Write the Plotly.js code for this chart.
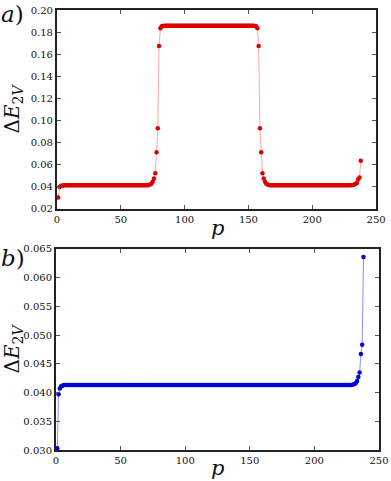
<!DOCTYPE html>
<html>
<head>
<meta charset="utf-8">
<script src="https://cdn.plot.ly/plotly-3.0.1.min.js"></script>
<style>
  html, body { margin: 0; padding: 0; background: #fff; }
  #chart { width: 391px; height: 481px; }
</style>
</head>
<body>
<div id="chart"></div>
<script>
// p = 1..238
const pValues = Array.from({ length: 238 }, (_, i) => i + 1);

// panel a) values, 10 per row
const energyA = [
  0.0303, 0.0397, 0.0407, 0.0411, 0.0412, 0.0413, 0.0413, 0.0413, 0.0413, 0.0413,
  0.0413, 0.0413, 0.0413, 0.0413, 0.0413, 0.0413, 0.0413, 0.0413, 0.0413, 0.0413,
  0.0413, 0.0413, 0.0413, 0.0413, 0.0413, 0.0413, 0.0413, 0.0413, 0.0413, 0.0413,
  0.0413, 0.0413, 0.0413, 0.0413, 0.0413, 0.0413, 0.0413, 0.0413, 0.0413, 0.0413,
  0.0413, 0.0413, 0.0413, 0.0413, 0.0413, 0.0413, 0.0413, 0.0413, 0.0413, 0.0413,
  0.0413, 0.0413, 0.0413, 0.0413, 0.0413, 0.0413, 0.0413, 0.0413, 0.0413, 0.0413,
  0.0413, 0.0413, 0.0413, 0.0413, 0.0413, 0.0413, 0.0413, 0.0413, 0.0413, 0.0413,
  0.0414, 0.0416, 0.0420, 0.0428, 0.0445, 0.0475, 0.0522, 0.0712, 0.0930, 0.1674,
  0.1834, 0.1852, 0.1856, 0.1857, 0.1857, 0.1857, 0.1857, 0.1857, 0.1857, 0.1857,
  0.1857, 0.1857, 0.1857, 0.1857, 0.1857, 0.1857, 0.1857, 0.1857, 0.1857, 0.1857,
  0.1857, 0.1857, 0.1857, 0.1857, 0.1857, 0.1857, 0.1857, 0.1857, 0.1857, 0.1857,
  0.1857, 0.1857, 0.1857, 0.1857, 0.1857, 0.1857, 0.1857, 0.1857, 0.1857, 0.1857,
  0.1857, 0.1857, 0.1857, 0.1857, 0.1857, 0.1857, 0.1857, 0.1857, 0.1857, 0.1857,
  0.1857, 0.1857, 0.1857, 0.1857, 0.1857, 0.1857, 0.1857, 0.1857, 0.1857, 0.1857,
  0.1857, 0.1857, 0.1857, 0.1857, 0.1857, 0.1857, 0.1857, 0.1857, 0.1857, 0.1857,
  0.1857, 0.1857, 0.1857, 0.1857, 0.1856, 0.1852, 0.1834, 0.1674, 0.0930, 0.0712,
  0.0522, 0.0475, 0.0445, 0.0428, 0.0420, 0.0416, 0.0414, 0.0413, 0.0413, 0.0413,
  0.0413, 0.0413, 0.0413, 0.0413, 0.0413, 0.0413, 0.0413, 0.0413, 0.0413, 0.0413,
  0.0413, 0.0413, 0.0413, 0.0413, 0.0413, 0.0413, 0.0413, 0.0413, 0.0413, 0.0413,
  0.0413, 0.0413, 0.0413, 0.0413, 0.0413, 0.0413, 0.0413, 0.0413, 0.0413, 0.0413,
  0.0413, 0.0413, 0.0413, 0.0413, 0.0413, 0.0413, 0.0413, 0.0413, 0.0413, 0.0413,
  0.0413, 0.0413, 0.0413, 0.0413, 0.0413, 0.0413, 0.0413, 0.0413, 0.0413, 0.0413,
  0.0413, 0.0413, 0.0413, 0.0413, 0.0413, 0.0413, 0.0413, 0.0413, 0.0413, 0.0414,
  0.0415, 0.0416, 0.0420, 0.0427, 0.0435, 0.0467, 0.0483, 0.0636
];

// panel b) values, 10 per row (p 1..238)
const energyB = [
  0.0303, 0.0397, 0.0407, 0.0411, 0.0412, 0.0413, 0.0413, 0.0413, 0.0413, 0.0413, // 1-10
  0.0413, 0.0413, 0.0413, 0.0413, 0.0413, 0.0413, 0.0413, 0.0413, 0.0413, 0.0413, // 11-20
  0.0413, 0.0413, 0.0413, 0.0413, 0.0413, 0.0413, 0.0413, 0.0413, 0.0413, 0.0413, // 21-30
  0.0413, 0.0413, 0.0413, 0.0413, 0.0413, 0.0413, 0.0413, 0.0413, 0.0413, 0.0413, // 31-40
  0.0413, 0.0413, 0.0413, 0.0413, 0.0413, 0.0413, 0.0413, 0.0413, 0.0413, 0.0413, // 41-50
  0.0413, 0.0413, 0.0413, 0.0413, 0.0413, 0.0413, 0.0413, 0.0413, 0.0413, 0.0413, // 51-60
  0.0413, 0.0413, 0.0413, 0.0413, 0.0413, 0.0413, 0.0413, 0.0413, 0.0413, 0.0413, // 61-70
  0.0413, 0.0413, 0.0413, 0.0413, 0.0413, 0.0413, 0.0413, 0.0413, 0.0413, 0.0413, // 71-80
  0.0413, 0.0413, 0.0413, 0.0413, 0.0413, 0.0413, 0.0413, 0.0413, 0.0413, 0.0413, // 81-90
  0.0413, 0.0413, 0.0413, 0.0413, 0.0413, 0.0413, 0.0413, 0.0413, 0.0413, 0.0413, // 91-100
  0.0413, 0.0413, 0.0413, 0.0413, 0.0413, 0.0413, 0.0413, 0.0413, 0.0413, 0.0413, // 101-110
  0.0413, 0.0413, 0.0413, 0.0413, 0.0413, 0.0413, 0.0413, 0.0413, 0.0413, 0.0413, // 111-120
  0.0413, 0.0413, 0.0413, 0.0413, 0.0413, 0.0413, 0.0413, 0.0413, 0.0413, 0.0413, // 121-130
  0.0413, 0.0413, 0.0413, 0.0413, 0.0413, 0.0413, 0.0413, 0.0413, 0.0413, 0.0413, // 131-140
  0.0413, 0.0413, 0.0413, 0.0413, 0.0413, 0.0413, 0.0413, 0.0413, 0.0413, 0.0413, // 141-150
  0.0413, 0.0413, 0.0413, 0.0413, 0.0413, 0.0413, 0.0413, 0.0413, 0.0413, 0.0413, // 151-160
  0.0413, 0.0413, 0.0413, 0.0413, 0.0413, 0.0413, 0.0413, 0.0413, 0.0413, 0.0413, // 161-170
  0.0413, 0.0413, 0.0413, 0.0413, 0.0413, 0.0413, 0.0413, 0.0413, 0.0413, 0.0413, // 171-180
  0.0413, 0.0413, 0.0413, 0.0413, 0.0413, 0.0413, 0.0413, 0.0413, 0.0413, 0.0413, // 181-190
  0.0413, 0.0413, 0.0413, 0.0413, 0.0413, 0.0413, 0.0413, 0.0413, 0.0413, 0.0413, // 191-200
  0.0413, 0.0413, 0.0413, 0.0413, 0.0413, 0.0413, 0.0413, 0.0413, 0.0413, 0.0413, // 201-210
  0.0413, 0.0413, 0.0413, 0.0413, 0.0413, 0.0413, 0.0413, 0.0413, 0.0413, 0.0413, // 211-220
  0.0413, 0.0413, 0.0413, 0.0413, 0.0413, 0.0413, 0.0413, 0.0413, 0.0413, 0.0414, // 221-230
  0.0415, 0.0416, 0.0420, 0.0427, 0.0435, 0.0467, 0.0483, 0.0636                  // 231-238
];

const xTicks = [0, 50, 100, 150, 200, 250];
const yTicksA = [0.02, 0.04, 0.06, 0.08, 0.10, 0.12, 0.14, 0.16, 0.18, 0.20];
const yTicksB = [0.030, 0.035, 0.040, 0.045, 0.050, 0.055, 0.060, 0.065];

const SERIF = "DejaVu Serif";
const Y_TITLE = "\u0394<i>E</i><sub>2<i>V</i></sub>";

function frameAxis(extra) {
    return Object.assign({
        showline: true,
        linecolor: "#222",
        linewidth: 2,
        mirror: "allticks",
        ticks: "inside",
        ticklen: 4,
        tickwidth: 1,
        tickcolor: "#555",
        showgrid: false,
        zeroline: false,
        tickfont: { family: SERIF, size: 10, color: "#111" }
    }, extra);
}

const traces = [
    {
        x: pValues, y: energyA, xaxis: "x", yaxis: "y",
        mode: "lines+markers",
        line: { color: "rgba(255,0,0,0.35)", width: 1 },
        marker: { color: "#dd0000", size: 4.5 },
        hoverinfo: "x+y"
    },
    {
        x: pValues, y: energyB, xaxis: "x2", yaxis: "y2",
        mode: "lines+markers",
        line: { color: "rgba(0,0,255,0.45)", width: 1 },
        marker: { color: "#0000dd", size: 4.5 },
        hoverinfo: "x+y"
    }
];

const layout = {
    width: 391, height: 481,
    paper_bgcolor: "#fff", plot_bgcolor: "#fff",
    showlegend: false,
    margin: { l: 56, r: 12, t: 10, b: 31 },
    font: { family: SERIF, color: "#111" },
    xaxis: frameAxis({
        domain: [0.003, 0.991], anchor: "y",
        range: [0, 250], tickvals: xTicks
    }),
    yaxis: frameAxis({
        domain: [0.548, 1], anchor: "x",
        range: [0.02, 0.20], tickvals: yTicksA, tickformat: ".2f",
        title: { text: Y_TITLE, font: { family: SERIF, size: 20 }, standoff: 6 }
    }),
    xaxis2: frameAxis({
        domain: [0, 1], anchor: "y2",
        range: [0, 250], tickvals: xTicks
    }),
    yaxis2: frameAxis({
        domain: [0, 0.457], anchor: "x2",
        range: [0.030, 0.065], tickvals: yTicksB, tickformat: ".3f",
        title: { text: Y_TITLE, font: { family: SERIF, size: 20 }, standoff: 0 }
    }),
    annotations: [
        { text: "<i>a</i>)", xref: "paper", yref: "paper", x: -0.175, y: 1.025,
          xanchor: "left", yanchor: "top", showarrow: false,
          font: { family: SERIF, size: 23 } },
        { text: "<i>b</i>)", xref: "paper", yref: "paper", x: -0.175, y: 0.47,
          xanchor: "left", yanchor: "top", showarrow: false,
          font: { family: SERIF, size: 23 } },
        { text: "<i>p</i>", xref: "paper", yref: "paper", x: 0.5, y: 0.505,
          xanchor: "center", yanchor: "middle", showarrow: false,
          font: { family: SERIF, size: 21 } },
        { text: "<i>p</i>", xref: "paper", yref: "paper", x: 0.5, y: -0.04,
          xanchor: "center", yanchor: "middle", showarrow: false,
          font: { family: SERIF, size: 21 } }
    ]
};

Plotly.newPlot("chart", traces, layout, { displayModeBar: false, responsive: false });
</script>
</body>
</html>
